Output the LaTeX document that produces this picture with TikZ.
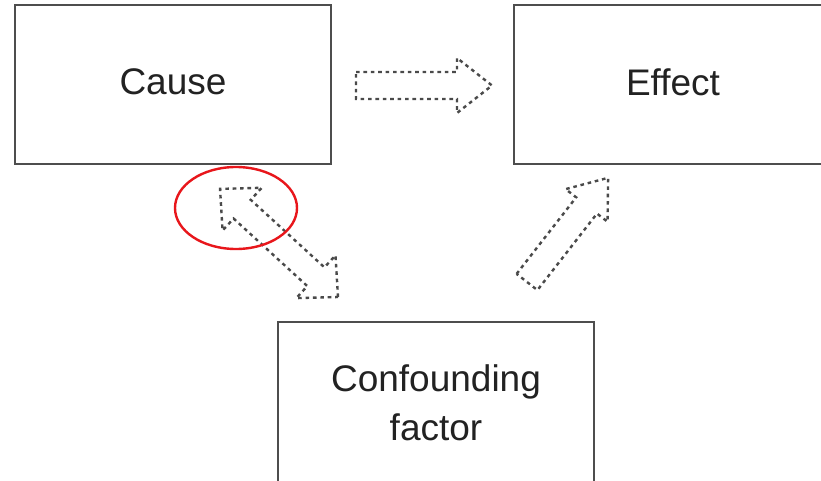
\documentclass[tikz,border=0pt]{standalone}
\usepackage{fontspec}
\setmainfont{Liberation Sans}
\definecolor{boxline}{HTML}{4E4E4E}
\definecolor{dashline}{HTML}{4A4A4A}
\definecolor{txt}{HTML}{222222}
\definecolor{mark}{HTML}{E8161B}
\tikzset{
  box/.style={draw=boxline, line width=2.8pt, rectangle, inner sep=0pt,
              text=txt, font=\fontsize{37}{49}\selectfont, align=center},
  blockline/.style={draw=dashline, line width=2.4pt, dash pattern=on 3.6pt off 3.8pt, line join=miter},
  ring/.style={draw=mark, line width=2.4pt}
}
\newcommand\singlearrow[6]{% x y angle length shaft-halfwidth head-halfwidth
  \begin{scope}[shift={(#1,#2)}, rotate=#3]
    \draw[blockline] (0,-#5) -- ({#4-35},-#5) -- ({#4-35},-#6) -- (#4,0) -- ({#4-35},#6) -- ({#4-35},#5) -- (0,#5) -- cycle;
  \end{scope}}
\begin{document}
\begin{tikzpicture}[x=1pt,y=-1pt]
  \clip (0,0) rectangle (821,481);
  \fill[white] (0,0) rectangle (821,481);

  \node[box, minimum width=316pt, minimum height=159pt] (cause) at (173,84.5) {\raisebox{5pt}{Cause}};
  \node[box, minimum width=318pt, minimum height=159pt] (effect) at (673,84.5) {\raisebox{4.5pt}{Effect}};
  \node[box, minimum width=316pt, minimum height=162pt] (conf) at (436,403) {Confounding\\factor};

  % Cause -> Effect (block arrow)
  \coordinate (ce1) at (356,85.5);
  \singlearrow{356}{85.5}{0}{136}{13.5}{27.5}

  % Confounding -> Effect (block arrow)
  \coordinate (fe1) at (527,282);
  \singlearrow{527}{282}{52.1}{132}{13.2}{26.6}

  % Cause <-> Confounding (double block arrow)
  \coordinate (cc1) at (338,297);
  \begin{scope}[shift={(338,297)}, rotate=137.5]
    \draw[blockline] (0,0) -- (30,29) -- (30,12.7) -- (130,12.7) -- (130,29) -- (160,0)
       -- (130,-29) -- (130,-12.7) -- (30,-12.7) -- (30,-29) -- cycle;
  \end{scope}

  % red highlight ellipse
  \draw[ring] (236,208) ellipse [x radius=61, y radius=41];
\end{tikzpicture}
\end{document}
